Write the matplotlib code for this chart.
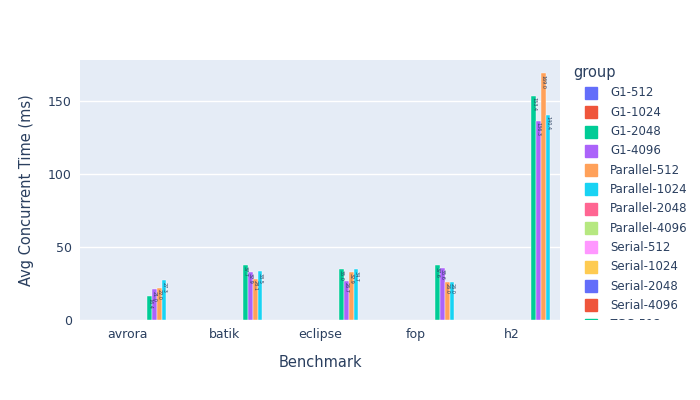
import numpy as np
import matplotlib.pyplot as plt
from matplotlib.patches import Rectangle

# %% 데이터
benchmarks = ["avrora", "batik", "eclipse", "fop", "h2"]
groups = ["G1-512", "G1-1024", "G1-2048", "G1-4096",
          "Parallel-512", "Parallel-1024", "Parallel-2048", "Parallel-4096",
          "Serial-512", "Serial-1024", "Serial-2048", "Serial-4096",
          "ZGC-512", "ZGC-1024", "ZGC-2048", "ZGC-4096"]
# 값이 있는 그룹만 (나머지는 비어 있음)
zgc_512 = [16.4, 37.7, 35.0, 37.6, 153.4]
zgc_1024 = [21.0, 32.9, 26.7, 35.6, 136.3]
zgc_2048 = [22.0, 28.1, 32.9, 26.0, 169.0]
zgc_4096 = [27.3, 33.5, 34.7, 26.0, 140.4]
values = {"ZGC-512": zgc_512, "ZGC-1024": zgc_1024,
          "ZGC-2048": zgc_2048, "ZGC-4096": zgc_4096}

colors = ["#636EFA", "#EF553B", "#00CC96", "#AB63FA", "#FFA15A",
          "#19D3F3", "#FF6692", "#B6E880", "#FF97FF", "#FECB52"]

# %% 그림
fig = plt.figure(figsize=(7, 4), dpi=100)
ax = fig.add_axes([80/700, 80/400, 480/700, 260/400])
ax.set_facecolor("#E5ECF6")
x = np.arange(len(benchmarks))
n = len(groups)
w = 0.8 / n
for i, g in enumerate(groups):
    if g not in values:
        continue
    pos = x - 0.4 + w * (i + 0.5)
    c = colors[i % 10]
    ax.bar(pos, values[g], width=w, color=c, edgecolor="white", linewidth=0.3, zorder=3)
    for p, v in zip(pos, values[g]):
        ax.text(p, v - 1, f"{v:.1f}", rotation=-90, fontsize=3.5, ha="center",
                va="top", color="#2a3f5f", zorder=4)

ax.set_xlim(-0.5, len(benchmarks) - 0.5)
ax.set_ylim(0, 178)
ax.set_xticks(x)
ax.set_xticklabels(benchmarks)
ax.set_yticks([0, 50, 100, 150])
ax.grid(axis="y", color="white", linewidth=1, zorder=0)
for s in ax.spines.values():
    s.set_visible(False)
ax.tick_params(length=0, colors="#2a3f5f", labelsize=9, pad=6)
ax.set_xlabel("Benchmark", color="#2a3f5f", fontsize=10.5, labelpad=10)
ax.set_ylabel("Avg Concurrent Time (ms)", color="#2a3f5f", fontsize=10.5, labelpad=10)

# %% 범례 (아래가 잘려 보이도록 따로 축을 만듦)
lax = fig.add_axes([565/700, 80/400, 135/700, 260/400])
lax.set_xlim(0, 135)
lax.set_ylim(260, 0)
lax.axis("off")
lax.text(8, 13, "group", fontsize=10.5, color="#2a3f5f", va="center", clip_on=True)
for i, g in enumerate(groups):
    yy = 33 + i * 19.3
    lax.add_patch(Rectangle((20, yy - 6), 12, 12, color=colors[i % 10], clip_on=True))
    lax.text(45, yy, g, fontsize=8.5, color="#2a3f5f", va="center", clip_on=True)

plt.savefig("out.png")
